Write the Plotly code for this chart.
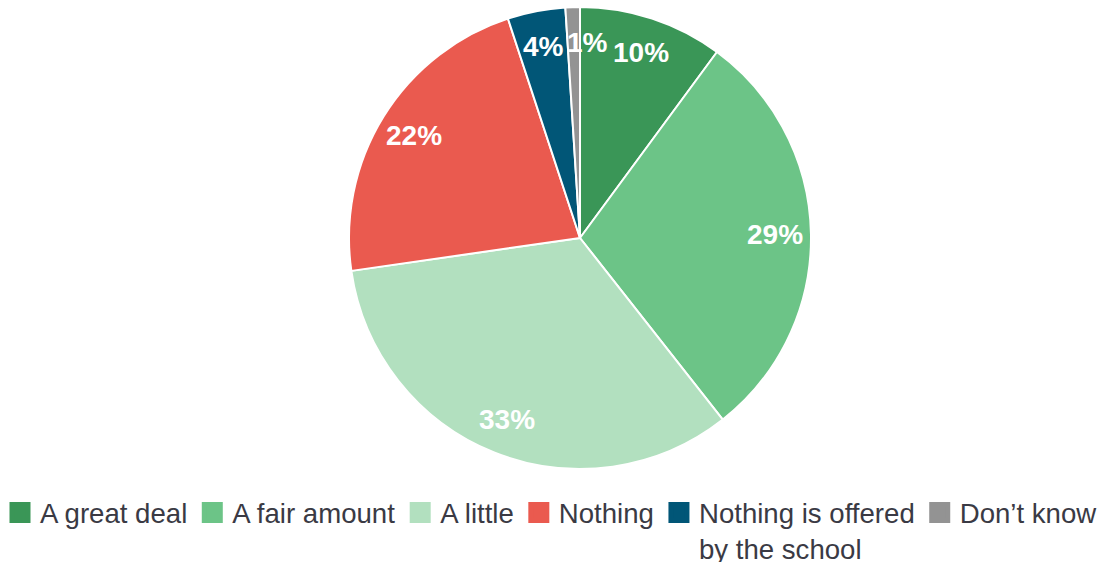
import math
import plotly.graph_objects as go

# Survey responses (percent of respondents)
categories = ["A great deal", "A fair amount", "A little", "Nothing",
              "Nothing is offered by the school", "Don’t know"]
legend_labels = ["A great deal", "A fair amount", "A little", "Nothing",
                 "Nothing is offered<br>by the school", "Don’t know"]
values = [10, 29, 33, 22, 4, 1]
colors = ["#3a9657", "#6cc487", "#b2e0bf", "#ea5a4f", "#015677", "#939393"]

W, H = 1107, 562
CX, CY, R = 580, 238, 231          # pie centre and radius in pixels
LABEL_R = 0.845                     # data labels sit near the rim
LABEL_SIZE = 28
LABEL_GAP = 4

fig = go.Figure()

fig.add_trace(go.Pie(
    labels=categories,
    values=values,
    sort=False,
    direction="clockwise",
    rotation=0,
    marker=dict(colors=colors, line=dict(color="white", width=2)),
    textinfo="none",
    hoverinfo="label+value",
    showlegend=False,
    domain=dict(x=[(CX - R) / W, (CX + R) / W],
                y=[1 - (CY + R) / H, 1 - (CY - R) / H]),
))

# Legend entries drawn with square markers
for lab, col in zip(legend_labels, colors):
    fig.add_trace(go.Scatter(
        x=[None], y=[None], mode="markers", name=lab,
        marker=dict(symbol="square", size=16, color=col,
                    line=dict(color=col, width=5)),
        hoverinfo="skip",
    ))


def label_width(text, size):
    # rough bold sans-serif advance widths
    return sum(0.889 if ch == "%" else 0.556 for ch in text) * size


# Percentage labels placed along each slice's mid-angle,
# nudged sideways when they would collide with the previous one
total = sum(values)
cum = 0
prev_right = prev_y = None
for v in values:
    mid = (cum + v / 2) / total * 2 * math.pi
    cum += v
    text = f"{v}%"
    w = label_width(text, LABEL_SIZE)
    px = CX + LABEL_R * R * math.sin(mid)
    py = CY - LABEL_R * R * math.cos(mid)
    left = px - w / 2
    if prev_right is not None and abs(py - prev_y) < LABEL_SIZE and left < prev_right + LABEL_GAP:
        px += prev_right + LABEL_GAP - left
    prev_right, prev_y = px + w / 2, py
    fig.add_annotation(
        x=px / W, y=1 - py / H, xref="paper", yref="paper",
        xanchor="center", yanchor="middle",
        text=text, showarrow=False,
        font=dict(family="Liberation Sans, Arial, sans-serif", size=LABEL_SIZE,
                  color="white", weight="bold"),
    )

fig.update_layout(
    width=W, height=H,
    margin=dict(l=0, r=0, t=0, b=0, autoexpand=False),
    paper_bgcolor="white", plot_bgcolor="white",
    xaxis=dict(visible=False), yaxis=dict(visible=False),
    font=dict(family="Liberation Sans, Arial, sans-serif"),
    legend=dict(
        orientation="h", x=0, xanchor="left",
        y=1 - 488 / H, yanchor="top",
        font=dict(size=27.6, color="#3a3a44"),
        valign="top", itemclick=False, itemdoubleclick=False,
        tracegroupgap=0,
    ),
)

fig.write_html("out.html")
